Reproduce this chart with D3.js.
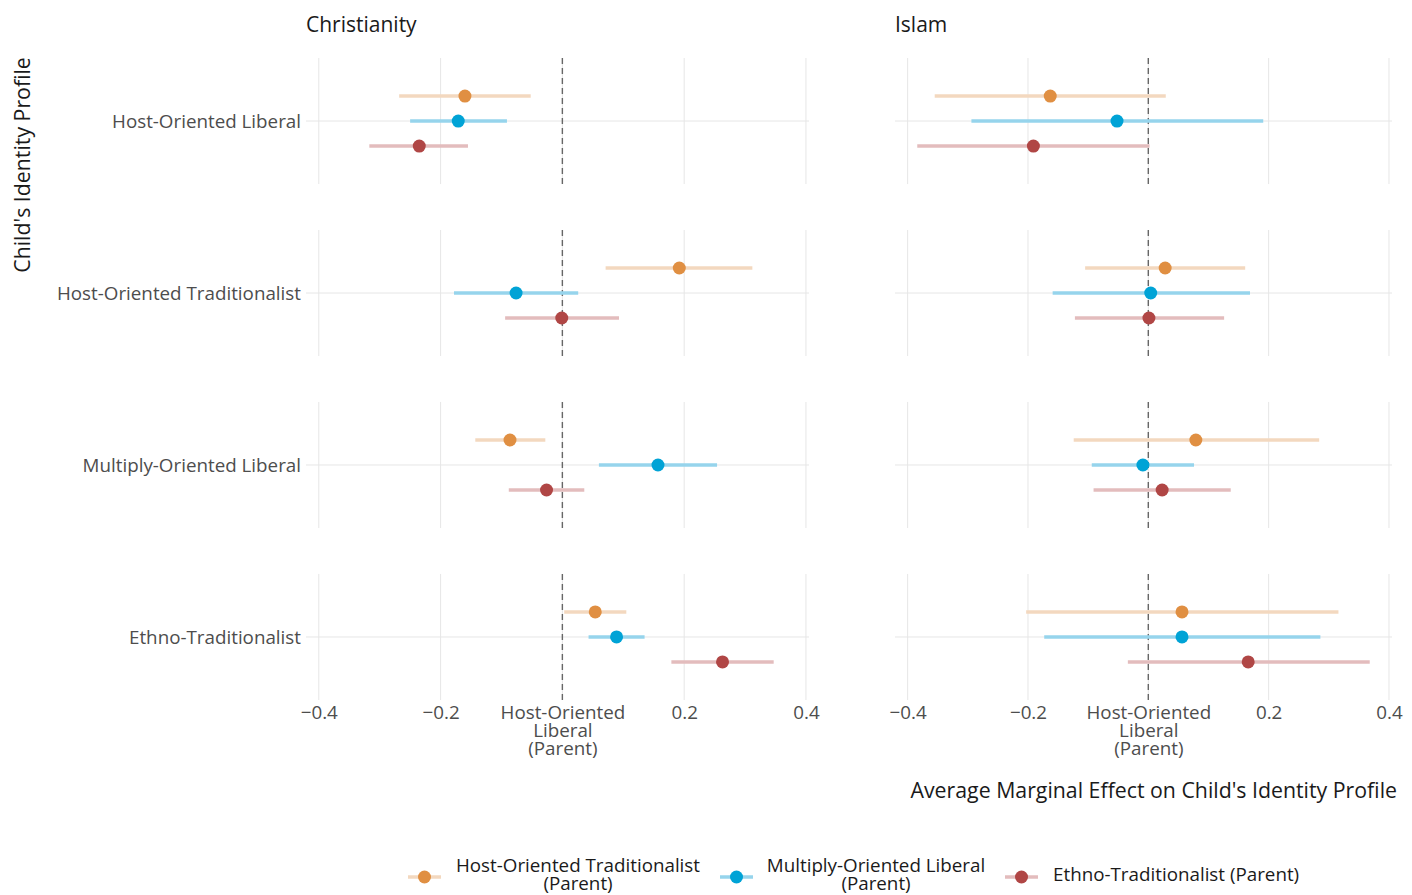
<!DOCTYPE html>
<html>
<head>
<meta charset="utf-8">
<title>Average Marginal Effect on Child's Identity Profile</title>
<style>
  body { margin: 0; background: #fff; }
  svg text { font-family: "Open Sans", Lato, sans-serif; font-weight: 400; }
  .grid { stroke: #e6e6e6; stroke-width: 1; }
  .tick-label { fill: #4d4d4d; font-size: 18.8px; }
  .strip { fill: #1a1a1a; font-size: 21px; }
  .axis-title { fill: #1a1a1a; font-size: 21.3px; }
  .legend-label { fill: #1a1a1a; font-size: 18.8px; }
</style>
<script src="https://cdn.jsdelivr.net/npm/d3@7"></script>
</head>
<body>
<svg id="chart" width="1412" height="895"></svg>
<script>
// child's identity profile (rows) and religion (facets)
var profiles = ["Host-Oriented Liberal", "Host-Oriented Traditionalist", "Multiply-Oriented Liberal", "Ethno-Traditionalist"];
var religions = ["Christianity", "Islam"];
// parent profile (colour)
var parentGroups = ["Host-Oriented Traditionalist (Parent)", "Multiply-Oriented Liberal (Parent)", "Ethno-Traditionalist (Parent)"];
var legendLabels = [["Host-Oriented Traditionalist", "(Parent)"], ["Multiply-Oriented Liberal", "(Parent)"], ["Ethno-Traditionalist (Parent)"]];
var pointColors = ["#e08f42", "#00a3d6", "#b04645"];
var lineColors = ["#f3d8bf", "#96d4ec", "#e3bcbd"];

// estimates, one row per child's profile, columns follow parentGroups
var christianityEst = [[-0.160, -0.171, -0.235], [0.192, -0.076, -0.001], [-0.086, 0.157, -0.026], [0.054, 0.089, 0.263]];
var christianityLow = [[-0.268, -0.250, -0.317], [0.071, -0.178, -0.094], [-0.143, 0.060, -0.088], [0.003, 0.043, 0.179]];
var christianityHigh = [[-0.052, -0.091, -0.155], [0.312, 0.026, 0.093], [-0.028, 0.254, 0.036], [0.105, 0.135, 0.347]];

var islamEst = [[-0.163, -0.052, -0.191], [0.028, 0.004, 0.001], [0.079, -0.009, 0.023], [0.056, 0.056, 0.166]];
var islamLow = [[-0.355, -0.294, -0.384], [-0.105, -0.159, -0.122], [-0.124, -0.094, -0.091], [-0.203, -0.173, -0.034]];
var islamHigh = [[0.029, 0.191, 0.002], [0.161, 0.169, 0.126], [0.284, 0.076, 0.137], [0.316, 0.286, 0.368]];

var xTicks = [-0.4, -0.2, 0, 0.2, 0.4];

var panelData = [
  {est: christianityEst, low: christianityLow, high: christianityHigh},
  {est: islamEst, low: islamLow, high: islamHigh}
];

var svg = d3.select("#chart");

// layout
var panelX = [[306, 809], [895, 1392]];
var y = d3.scaleBand().domain(profiles).range([58, 700]).paddingInner(0.267).paddingOuter(0);
var dodge = d3.scalePoint().domain(parentGroups).range([-25, 25]);
var bottom = 699;

religions.forEach(function(rel, p) {
  var x = d3.scaleLinear().domain([-0.421, 0.405]).range(panelX[p]);
  var g = svg.append("g");
  var d = panelData[p];

  // strip title
  g.append("text").attr("class", "strip")
    .attr("x", panelX[p][0]).attr("y", 32)
    .text(rel);

  profiles.forEach(function(prof, r) {
    var top = y(prof), h = y.bandwidth(), cy = top + h / 2;
    // vertical grid
    g.selectAll(null).data(xTicks).enter().append("line")
      .attr("class", "grid")
      .attr("x1", function(t) { return x(t); }).attr("x2", function(t) { return x(t); })
      .attr("y1", top).attr("y2", top + h);
    // horizontal grid
    g.append("line").attr("class", "grid")
      .attr("x1", panelX[p][0]).attr("x2", panelX[p][1])
      .attr("y1", cy).attr("y2", cy);
    // reference line
    g.append("line")
      .attr("x1", x(0)).attr("x2", x(0))
      .attr("y1", top).attr("y2", top + h)
      .attr("stroke", "#666").attr("stroke-width", 1.4)
      .attr("stroke-dasharray", "6,4");

    var rows = parentGroups.map(function(pg, k) {
      return {k: k, est: d.est[r][k], low: d.low[r][k], high: d.high[r][k], y: cy + dodge(pg)};
    });
    g.selectAll(null).data(rows).enter().append("line")
      .attr("x1", function(e) { return x(e.low); })
      .attr("x2", function(e) { return x(e.high); })
      .attr("y1", function(e) { return e.y; }).attr("y2", function(e) { return e.y; })
      .attr("stroke", function(e) { return lineColors[e.k]; })
      .attr("stroke-width", 3.5);
    g.selectAll(null).data(rows).enter().append("circle")
      .attr("cx", function(e) { return x(e.est); })
      .attr("cy", function(e) { return e.y; })
      .attr("r", 6.5)
      .attr("fill", function(e) { return pointColors[e.k]; });

    // y tick labels on left panel only
    if (p === 0) {
      svg.append("text").attr("class", "tick-label")
        .attr("x", 301).attr("y", cy).attr("dy", "0.35em")
        .attr("text-anchor", "end")
        .text(prof);
    }
  });

  // x axis labels
  var axis = d3.axisBottom(x).tickValues(xTicks).tickSize(0).tickFormat("");
  var ag = g.append("g").attr("transform", "translate(0," + bottom + ")").call(axis);
  ag.select(".domain").remove();
  ag.selectAll(".tick").each(function(t) {
    var txt = d3.select(this).append("text").attr("class", "tick-label")
      .attr("text-anchor", "middle").attr("y", 20);
    var lines = t === 0 ? ["Host-Oriented", "Liberal", "(Parent)"] : [d3.format(".1f")(t).replace("-", "\u2212")];
    lines.forEach(function(l, i) {
      txt.append("tspan").attr("x", 0).attr("dy", i === 0 ? 0 : 18).text(l);
    });
  });
});

// axis titles
svg.append("text").attr("class", "axis-title")
  .attr("transform", "translate(30,165) rotate(-90)")
  .attr("text-anchor", "middle")
  .text("Child's Identity Profile");
svg.append("text").attr("class", "axis-title")
  .attr("x", 1397).attr("y", 798).attr("text-anchor", "end")
  .text("Average Marginal Effect on Child's Identity Profile");

// legend
var legendKeyX = [408, 720, 1005];
var legendTextX = [578, 876, 1053];
parentGroups.forEach(function(pg, k) {
  var lg = svg.append("g");
  lg.append("line")
    .attr("x1", legendKeyX[k]).attr("x2", legendKeyX[k] + 33)
    .attr("y1", 877).attr("y2", 877)
    .attr("stroke", lineColors[k]).attr("stroke-width", 3.5);
  lg.append("circle")
    .attr("cx", legendKeyX[k] + 16.5).attr("cy", 877).attr("r", 6.5)
    .attr("fill", pointColors[k]);
  var lines = legendLabels[k];
  var t = lg.append("text").attr("class", "legend-label")
    .attr("text-anchor", lines.length > 1 ? "middle" : "start");
  lines.forEach(function(l, i) {
    t.append("tspan").attr("x", legendTextX[k])
      .attr("y", lines.length > 1 ? 872 + i * 18 : 881)
      .text(l);
  });
});
</script>
</body>
</html>
